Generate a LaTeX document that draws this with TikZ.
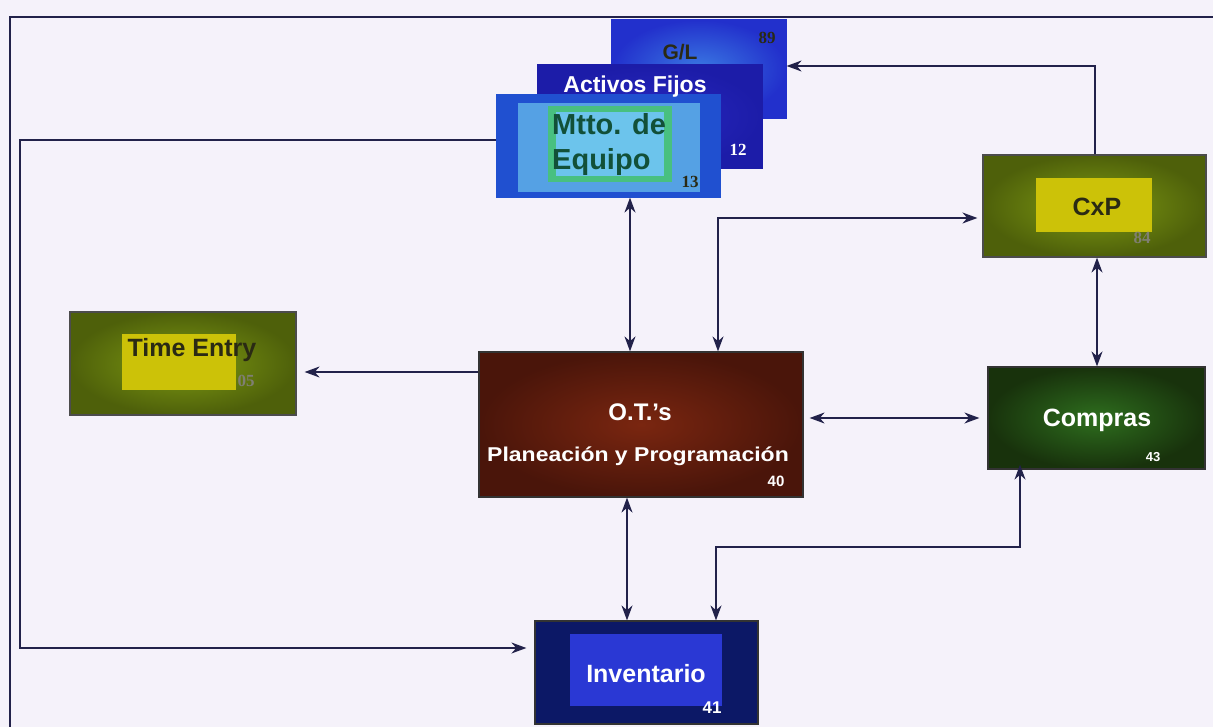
\documentclass[tikz,border=0pt]{standalone}
\usepackage{fontspec}
\setmainfont{Liberation Sans}
\newfontfamily\numfont{Liberation Serif}
\usetikzlibrary{arrows.meta,calc}
\definecolor{bg}{HTML}{F5F2FA}
\definecolor{linec}{HTML}{22224A}
\definecolor{glout}{HTML}{2230CC}
\definecolor{glin}{HTML}{3A78E2}
\definecolor{afout}{HTML}{1C1CA8}
\definecolor{afin}{HTML}{2828C0}
\definecolor{mtout}{HTML}{2050D0}
\definecolor{mtin}{HTML}{6CC4EC}
\definecolor{mtring}{HTML}{48C080}
\definecolor{mttext}{HTML}{125038}
\definecolor{olout}{HTML}{4E600A}
\definecolor{olin}{HTML}{7E9A12}
\definecolor{yel}{HTML}{CCC208}
\definecolor{otout}{HTML}{4A150A}
\definecolor{otin}{HTML}{7A2610}
\definecolor{cpout}{HTML}{18320C}
\definecolor{cpin}{HTML}{2E6E1E}
\definecolor{invout}{HTML}{0C1866}
\definecolor{invin}{HTML}{2A38D4}
\definecolor{darktxt}{HTML}{2A2A14}
\tikzset{
  box/.style={rectangle, inner sep=0pt, line width=1.2pt, draw=#1},
  conn/.style={draw=linec, line width=1.6pt, arrows={-}, >={Stealth[length=15pt,width=11pt]}},
  lbl/.style={inner sep=0pt, font=\bfseries},
  num/.style={inner sep=0pt, font=\numfont\bfseries\fontsize{17}{17}\selectfont},
}
\begin{document}
\begin{tikzpicture}[x=1pt,y=-1pt]
\useasboundingbox (0,0) rectangle (1213,727);
\fill[bg] (0,0) rectangle (1213,727);
\begin{scope}
\clip (0,0) rectangle (1213,727);
\draw[linec, line width=1.4pt] (10,760) -- (10,17) -- (1240,17);
\end{scope}
% G/L
\node[box=glout, minimum width=174pt, minimum height=98pt, shade, inner color=glin, outer color=glout] (gl) at (699,69) {};
\node[lbl, text=darktxt, font=\bfseries\fontsize{21}{21}\selectfont] (gltxt) at (680,52) {G/L};
\node[num, text=darktxt] (glnum) at (767,38) {89};
% Activos Fijos
\node[box=afout, minimum width=224pt, minimum height=103pt, shade, inner color=afin, outer color=afout] (af) at (650,116.5) {};
\node[num, text=white] (afnum) at (738,150) {12};
% Mtto
\node[box=mtout, minimum width=223pt, minimum height=102pt, fill=mtout] (mtto) at (608.5,146) {};
\fill[mtin!70!mtout] (518,103) rectangle (700,192);
\fill[mtring] (548,106) rectangle (672,182);
\fill[mtin] (556,112) rectangle (664,176);
\node[inner sep=0pt, anchor=west, align=left, text=mttext, font=\bfseries\fontsize{29}{35}\selectfont] (mttxt) at (552,145) {Mtto. de\\Equipo};
\node[num, text=darktxt] (mtnum) at (690,182) {13};
\node[lbl, text=white, font=\bfseries\fontsize{23}{23}\selectfont] (aftxt) at (635,87) {Activos Fijos};
% Time Entry
\node[box=black!70, minimum width=226pt, minimum height=103pt, shade, inner color=olin, outer color=olout] (te) at (183,363.5) {};
\fill[yel] (122,334) rectangle (236,390);
\node[lbl, text=darktxt, font=\bfseries\fontsize{25}{25}\selectfont] (tetxt) at (192,350) {Time Entry};
\node[num, text=darktxt!60] (tenum) at (246,381) {05};
% O.T.'s
\node[box=black!80, minimum width=324pt, minimum height=145pt, shade, inner color=otin, outer color=otout] (ot) at (641,424.5) {};
\node[lbl, text=white, font=\bfseries\fontsize{24}{24}\selectfont] (ottxt) at (640,412) {O.T.'s};
\node[lbl, text=white, font=\bfseries\fontsize{20}{20}\selectfont] (otsub) at (638,456) {\scalebox{1.15}[1]{Planeación y Programación}};
\node[lbl, text=white, font=\bfseries\fontsize{15}{15}\selectfont] (otnum) at (776,481) {40};
% CxP
\node[box=black!70, minimum width=223pt, minimum height=102pt, shade, inner color=olin, outer color=olout] (cxp) at (1094.5,206) {};
\fill[yel] (1036,178) rectangle (1152,232);
\node[lbl, text=darktxt, font=\bfseries\fontsize{25}{25}\selectfont] (cxptxt) at (1097,207) {CxP};
\node[num, text=darktxt!60] (cxpnum) at (1142,238) {84};
% Compras
\node[box=black!80, minimum width=217pt, minimum height=102pt, shade, inner color=cpin, outer color=cpout] (compras) at (1096.5,418) {};
\node[lbl, text=white, font=\bfseries\fontsize{25}{25}\selectfont] (cptxt) at (1097,420) {Compras};
\node[lbl, text=white, font=\bfseries\fontsize{13}{13}\selectfont] (cpnum) at (1153,457) {43};
% Inventario
\node[box=black!80, minimum width=223pt, minimum height=103pt, fill=invout] (inv) at (646.5,672.5) {};
\fill[invin] (570,634) rectangle (722,706);
\node[lbl, text=white, font=\bfseries\fontsize{25}{25}\selectfont] (invtxt) at (646,674) {Inventario};
\node[lbl, text=white, font=\bfseries\fontsize{17}{17}\selectfont] (invnum) at (712,708) {41};
% connectors
\coordinate (xa) at (630,0);
\coordinate (xb) at (718,218);
\coordinate (xc) at (1097,0);
\coordinate (yc) at (0,372);
\coordinate (yd) at (0,418);
\coordinate (xe) at (627,0);
\coordinate (xf) at (1020,547);
\coordinate (xh) at (716,547);
\coordinate (lc1) at (20,140);
\coordinate (lc2) at (20,648);
\coordinate (tc) at (1095,66);
\draw[conn,<->] (mtto.south -| xa) -- (ot.north -| xa);
\draw[conn,<->] (ot.north -| xb) -- (xb) -- ([xshift=-5pt]cxp.west |- xb);
\draw[conn,<->] (cxp.south -| xc) -- (compras.north -| xc);
\draw[conn,->] (ot.west |- yc) -- ([xshift=8pt]te.east |- yc);
\draw[conn,<->] ([xshift=6pt]ot.east |- yd) -- ([xshift=-8pt]compras.west |- yd);
\draw[conn,<->] (ot.south -| xe) -- (inv.north -| xe);
\draw[conn,<->] ([yshift=5pt]compras.south -| xf) -- (xf) -- (xh) -- (inv.north -| xh);
\draw[conn,->] (mtto.west |- lc1) -- (lc1) -- (lc2) -- ([xshift=-8pt]inv.west |- lc2);
\draw[conn,->] (cxp.north -| tc) -- (tc) -- (gl.east |- tc);
\end{tikzpicture}
\end{document}
